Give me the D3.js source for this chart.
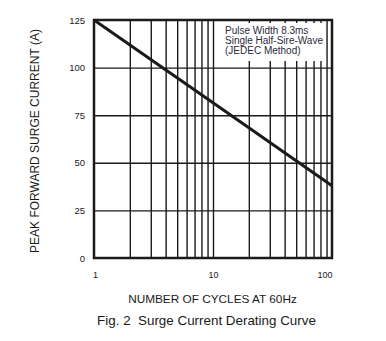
<!DOCTYPE html>
<html>
<head>
<meta charset="utf-8">
<script src="https://cdn.jsdelivr.net/npm/d3@7"></script>
<style>
  html, body { margin: 0; padding: 0; background: #fff; }
  svg { display: block; font-family: "Liberation Sans", Arial, sans-serif; }
</style>
</head>
<body>
<svg id="chart" width="386" height="341"></svg>
<script>
// Surge current derating: peak forward surge current vs. number of cycles
const cycles = [1, 10, 100];
const surgeCurrent = [125, 81.5, 38];

const yTicks = [0, 25, 50, 75, 100, 125];
const xLabelTicks = [1, 10, 100];
const xGridTicks = [2, 3, 4, 5, 6, 7, 8, 9, 10, 20, 30, 40, 50, 60, 70, 80, 90];

const noteLines = ["Pulse Width 8.3ms", "Single Half-Sire-Wave", "(JEDEC Method)"];
const yTitle = "PEAK FORWARD SURGE CURRENT (A)";
const xTitle = "NUMBER OF CYCLES AT 60Hz";
const caption = "Fig. 2  Surge Current Derating Curve";

const W = 386, H = 341;
const margin = { top: 20, right: 54, bottom: 83, left: 94 };
const iw = W - margin.left - margin.right;
const ih = H - margin.top - margin.bottom;

const svg = d3.select("#chart");
const g = svg.append("g").attr("transform", `translate(${margin.left},${margin.top})`);

const x = d3.scaleLog().domain([1, 100]).range([0, iw]);
const y = d3.scaleLinear().domain([0, 125]).range([ih, 0]);

const ink = "#1a1a1a";

// vertical grid
g.append("g")
  .call(d3.axisBottom(x).tickValues(xGridTicks).tickSize(-ih).tickFormat(""))
  .attr("transform", `translate(0,${ih})`)
  .call(s => s.select(".domain").remove())
  .call(s => s.selectAll("line").attr("stroke", ink).attr("stroke-width", 1.4));

// horizontal grid
g.append("g")
  .call(d3.axisLeft(y).tickValues(yTicks.filter(v => v > 0 && v < 125)).tickSize(-iw).tickFormat(""))
  .call(s => s.select(".domain").remove())
  .call(s => s.selectAll("line").attr("stroke", ink).attr("stroke-width", 1.4));

// y tick labels
g.append("g")
  .call(d3.axisLeft(y).tickValues(yTicks).tickSize(0).tickPadding(9).tickFormat(d3.format("d")))
  .call(s => s.select(".domain").remove())
  .call(s => s.selectAll("text").attr("font-size", 9.5).attr("fill", ink)
    .attr("font-family", "Liberation Sans, Arial, sans-serif"));

// x tick labels
g.append("g")
  .attr("transform", `translate(0,${ih})`)
  .call(d3.axisBottom(x).tickValues(xLabelTicks).tickSize(0).tickPadding(14).tickFormat(d3.format("d")))
  .call(s => s.select(".domain").remove())
  .call(s => s.selectAll("text").attr("font-size", 9).attr("fill", ink)
    .attr("font-family", "Liberation Sans, Arial, sans-serif")
    .attr("text-anchor", d => d === 100 ? "end" : "middle")
    .attr("dx", d => d === 1 ? 1 : 0));

// note box in the upper right of the plot
const note = g.append("g").attr("transform", "translate(128,3)");
note.append("rect").attr("x", 0).attr("y", 0).attr("width", 103).attr("height", 38).attr("fill", "#fff");
note.selectAll("text").data(noteLines).join("text")
  .attr("x", 3).attr("y", (d, i) => 11.3 + i * 10)
  .attr("font-size", 10).attr("fill", "#2a2a3a").text(d => d);

// derating curve
const line = d3.line().x(d => x(d[0])).y(d => y(d[1]));
g.append("path")
  .datum(cycles.map((c, i) => [c, surgeCurrent[i]]))
  .attr("d", line).attr("fill", "none").attr("stroke", ink).attr("stroke-width", 3);

// frame
g.append("rect").attr("x", 0).attr("y", 0).attr("width", iw).attr("height", ih)
  .attr("fill", "none").attr("stroke", ink).attr("stroke-width", 2.5);

// titles
svg.append("text")
  .attr("transform", `translate(35,${margin.top + ih / 2 + 2}) rotate(-90)`)
  .attr("text-anchor", "middle").attr("dominant-baseline", "central")
  .attr("font-size", 12).attr("fill", ink).text(yTitle);

svg.append("text")
  .attr("x", 212.5).attr("y", 302.5).attr("text-anchor", "middle")
  .attr("font-size", 11.8).attr("fill", ink).text(xTitle);

svg.append("text")
  .attr("x", 206.5).attr("y", 325).attr("text-anchor", "middle")
  .attr("font-size", 13.4).attr("fill", ink).style("white-space", "pre").text(caption);
</script>
</body>
</html>
